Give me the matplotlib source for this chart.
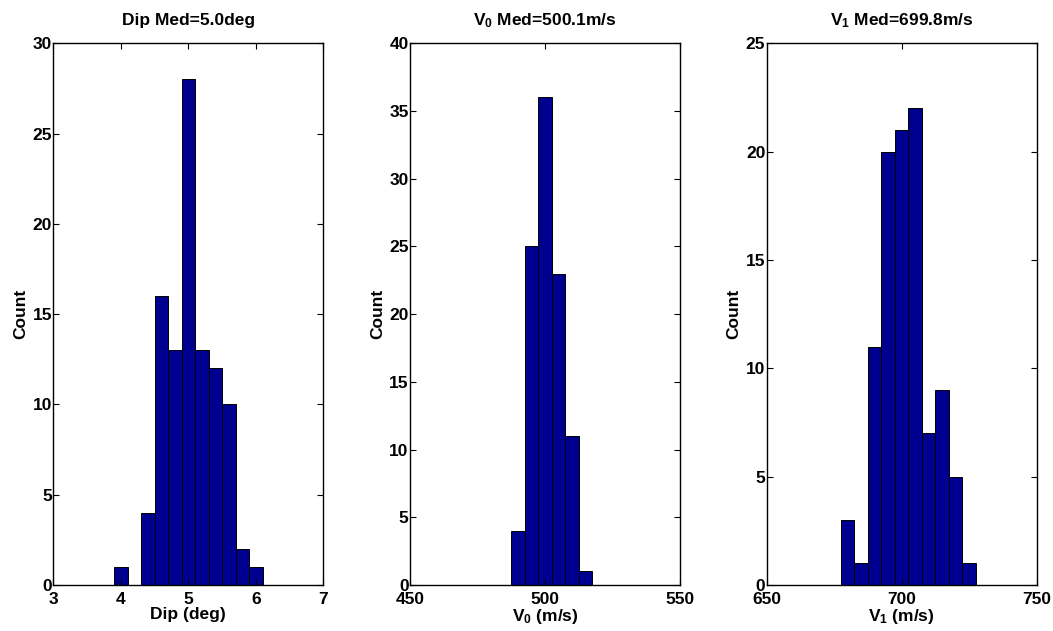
import matplotlib
matplotlib.use("Agg")
import matplotlib.pyplot as plt

plt.rcParams['font.family'] = ['Liberation Sans', 'DejaVu Sans']
plt.rcParams['font.weight'] = 'bold'
plt.rcParams['mathtext.fontset'] = 'custom'
plt.rcParams['mathtext.rm'] = 'Liberation Sans:bold'
plt.rcParams['mathtext.it'] = 'Liberation Sans:bold'
plt.rcParams['mathtext.bf'] = 'Liberation Sans:bold'
plt.rcParams['mathtext.default'] = 'rm'

# Data
dip_centers = [4.0, 4.2, 4.4, 4.6, 4.8, 5.0, 5.2, 5.4, 5.6, 5.8, 6.0]
dip_counts = [1, 0, 4, 16, 13, 28, 13, 12, 10, 2, 1]
v0_centers = [490, 495, 500, 505, 510, 515]
v0_counts = [4, 25, 36, 23, 11, 1]
v1_centers = [680, 685, 690, 695, 700, 705, 710, 715, 720, 725]
v1_counts = [3, 1, 11, 20, 21, 22, 7, 9, 5, 1]

titles = ["Dip Med=5.0deg", r"V$_0$ Med=500.1m/s", r"V$_1$ Med=699.8m/s"]
xlabels = ["Dip (deg)", r"V$_0$ (m/s)", r"V$_1$ (m/s)"]
xlims = [(3, 7), (450, 550), (650, 750)]
xticks = [[3, 4, 5, 6, 7], [450, 500, 550], [650, 700, 750]]
ylims = [30, 40, 25]
yticks = [list(range(0, 31, 5)), list(range(0, 41, 5)), list(range(0, 26, 5))]
widths = [0.2, 5, 5]

data = [(dip_centers, dip_counts), (v0_centers, v0_counts), (v1_centers, v1_counts)]

fig = plt.figure(figsize=(10.53, 6.31), dpi=100)
W, H = 1053, 631
lefts = [53.3, 410, 766.7]
top_px, bot_px = 43.3, 585
for i in range(3):
    ax = fig.add_axes([lefts[i] / W, (H - bot_px) / H, 270 / W, (bot_px - top_px) / H])
    c, n = data[i]
    ax.bar(c, n, width=widths[i], color='#000090', edgecolor='black', linewidth=0.7)
    ax.set_xlim(*xlims[i])
    ax.set_ylim(0, ylims[i])
    ax.set_xticks(xticks[i])
    ax.set_yticks(yticks[i])
    ax.tick_params(direction='in', top=True, right=True, length=4, width=0.8,
                   labelsize=12.5)
    ax.tick_params(axis='x', pad=5)
    ax.tick_params(axis='y', pad=1)
    for lab in ax.get_xticklabels() + ax.get_yticklabels():
        lab.set_fontweight('bold')
    ax.set_title(titles[i], fontsize=12.5, fontweight='bold', pad=13)
    ax.set_xlabel(xlabels[i], fontsize=12.5, fontweight='bold', labelpad=0)
    ax.set_ylabel("Count", fontsize=12.5, fontweight='bold', labelpad=3)
    for s in ax.spines.values():
        s.set_linewidth(1.0)

fig.savefig("out.png", dpi=100)
